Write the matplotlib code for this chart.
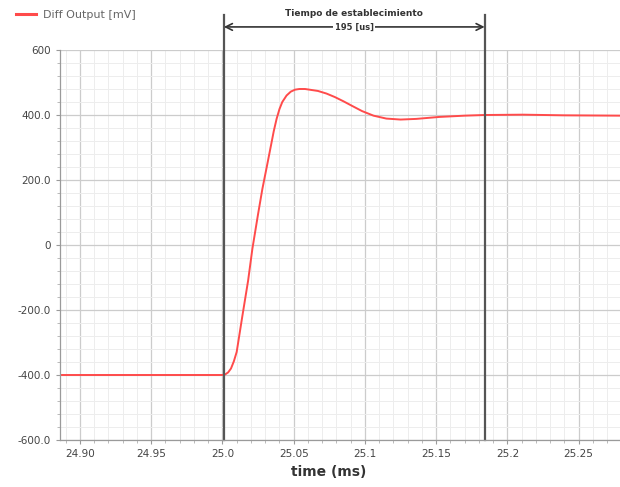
import matplotlib
matplotlib.use('Agg')

import numpy as np
import matplotlib.pyplot as plt
from matplotlib.ticker import MultipleLocator, FixedLocator, FixedFormatter

# waveform (time in ms, output in mV)
time_ms = [24.886, 25.000, 25.002, 25.004, 25.006, 25.008, 25.010, 25.014,
           25.018, 25.021, 25.025, 25.028, 25.031, 25.034, 25.036, 25.038,
           25.040, 25.042, 25.045, 25.048, 25.051, 25.054, 25.058, 25.061,
           25.067, 25.073, 25.079, 25.085, 25.091, 25.098, 25.106, 25.115,
           25.125, 25.136, 25.152, 25.170, 25.184, 25.211, 25.240, 25.279]
diff_mv = [-400, -400, -398, -392, -380, -358, -329, -218,
           -110, -12, 95, 172, 238, 305, 350, 388,
           418, 440, 460, 472, 478, 480, 480, 478,
           474, 466, 455, 442, 428, 412, 398, 389,
           386, 388, 394, 398, 400, 401, 399, 398]

x_ticks = [24.90, 24.95, 25.0, 25.05, 25.1, 25.15, 25.2, 25.25]
x_labels = ['24.90', '24.95', '25.0', '25.05', '25.1', '25.15', '25.2', '25.25']
y_ticks = [-600, -400, -200, 0, 200, 400, 600]
y_labels = ['-600.0', '-400.0', '-200.0', '0', '200.0', '400.0', '600']

t_start = 25.001
t_settled = 25.184
settling_label = '195 [us]'
settling_title = 'Tiempo de establecimiento'


def main():
    fig = plt.figure(figsize=(6.2, 4.87), dpi=100)
    ax = fig.add_axes([60 / 620, 47 / 487, 560 / 620, 390 / 487])

    ax.plot(time_ms, diff_mv, color='#ff4b4b', lw=1.4, label='Diff Output [mV]')

    ax.set_xlim(24.886, 25.279)
    ax.set_ylim(-600, 600)

    ax.xaxis.set_major_locator(FixedLocator(x_ticks))
    ax.xaxis.set_major_formatter(FixedFormatter(x_labels))
    ax.xaxis.set_minor_locator(MultipleLocator(0.01))
    ax.yaxis.set_major_locator(FixedLocator(y_ticks))
    ax.yaxis.set_major_formatter(FixedFormatter(y_labels))
    ax.yaxis.set_minor_locator(MultipleLocator(40))

    ax.grid(which='major', color='#cccccc', lw=0.9)
    ax.grid(which='minor', color='#ededed', lw=0.7)
    ax.set_axisbelow(True)

    for s in ['top', 'right']:
        ax.spines[s].set_visible(False)
    for s in ['left', 'bottom']:
        ax.spines[s].set_color('#9a9a9a')
        ax.spines[s].set_linewidth(0.9)

    ax.tick_params(which='major', length=3, color='#9a9a9a', labelsize=7.5,
                   labelcolor='#444444')
    ax.tick_params(which='minor', length=2, color='#b0b0b0')

    ax.set_xlabel('time (ms)', fontsize=10, fontweight='bold', color='#333333')
    ax.xaxis.set_label_coords(0.48, -0.065)

    # settling time markers, reaching above the plot
    for t in [t_start, t_settled]:
        ax.axvline(t, ymin=0, ymax=1.09, color='#555555', lw=1.6, clip_on=False)

    y_arrow = 671
    ax.annotate('', xy=(t_start, y_arrow), xytext=(t_settled, y_arrow),
                arrowprops=dict(arrowstyle='<->', color='#333333', lw=1.2,
                                shrinkA=0, shrinkB=0, mutation_scale=12),
                annotation_clip=False)
    x_mid = (t_start + t_settled) / 2
    ax.text(x_mid, y_arrow, settling_label, ha='center', va='center',
            fontsize=6, fontweight='bold', color='#333333', clip_on=False,
            bbox=dict(boxstyle='square,pad=0.15', fc='white', ec='none'))
    ax.text(x_mid, 712, settling_title, ha='center', va='center',
            fontsize=6.5, fontweight='bold', color='#333333', clip_on=False)

    leg = fig.legend(loc='upper left', bbox_to_anchor=(0.01, 1.0), frameon=False,
                     fontsize=8, handlelength=1.8, handletextpad=0.6)
    for txt in leg.get_texts():
        txt.set_color('#666666')
    for line in leg.get_lines():
        line.set_linewidth(2.2)

    fig.savefig('out.png', dpi=100)
    plt.close(fig)


if __name__ == '__main__':
    main()
